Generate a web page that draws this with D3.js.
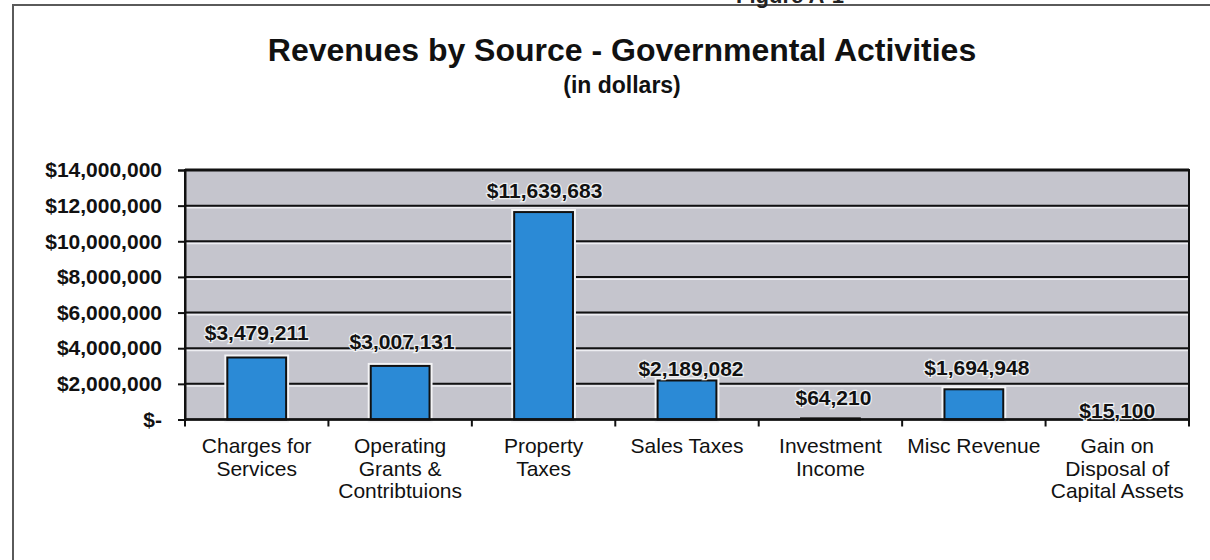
<!DOCTYPE html>
<html>
<head>
<meta charset="utf-8">
<script src="https://cdn.jsdelivr.net/npm/d3@7"></script>
<style>
  html, body { margin: 0; padding: 0; background: #fff; }
  svg { display: block; font-family: "Liberation Sans", Arial, sans-serif; }
</style>
</head>
<body>
<svg id="chart" width="1210" height="560"></svg>
<script>
// Revenue sources (line breaks mark wrapped axis labels)
const categories = [
  "Charges for\nServices",
  "Operating\nGrants &\nContribtuions",
  "Property\nTaxes",
  "Sales Taxes",
  "Investment\nIncome",
  "Misc Revenue",
  "Gain on\nDisposal of\nCapital Assets"
];
const revenues = [3479211, 3007131, 11639683, 2189082, 64210, 1694948, 15100];
const yTicks = [0, 2000000, 4000000, 6000000, 8000000, 10000000, 12000000, 14000000];

// Value-label placement: gap from bar top to label baseline, and sideways nudge
const labelLift = [17, 17, 14, 4, 13, 14, 1];
const labelShift = [0, 2, 1, 4, 3, 3, 0];

const W = 1210, H = 560;
const plot = { left: 185, right: 1189, top: 170, bottom: 419.5 };

const svg = d3.select("#chart");
const money = d3.format(",");
const fmtTick = v => v === 0 ? "$-" : "$" + money(v);
const fmtLabel = v => "$" + money(v);

// Page frame
svg.append("path")
  .attr("d", `M13,${H} L13,5 L${W},5`)
  .attr("fill", "none")
  .attr("stroke", "#5a5a5a")
  .attr("stroke-width", 2);

// Figure caption sitting above the frame
svg.append("text")
  .attr("x", 790).attr("y", 3)
  .attr("text-anchor", "middle")
  .attr("font-size", 22).attr("font-weight", "bold")
  .attr("fill", "#222")
  .text("Figure A-1");

// Titles
svg.append("text")
  .attr("x", 622).attr("y", 61)
  .attr("text-anchor", "middle")
  .attr("font-size", 32).attr("font-weight", "bold")
  .attr("fill", "#111")
  .text("Revenues by Source - Governmental Activities");
svg.append("text")
  .attr("x", 622).attr("y", 93)
  .attr("text-anchor", "middle")
  .attr("font-size", 23).attr("font-weight", "bold")
  .attr("fill", "#111")
  .text("(in dollars)");

// Scales
const y = d3.scaleLinear().domain([0, 14000000]).range([plot.bottom, plot.top]);
const slot = d3.scaleBand().domain(categories).range([plot.left, plot.right]).padding(0);
const x = d3.scaleBand().domain(categories).range([plot.left, plot.right])
  .paddingInner(0.59).paddingOuter(0.295);

// Plot background
svg.append("rect")
  .attr("x", plot.left).attr("y", plot.top)
  .attr("width", plot.right - plot.left).attr("height", plot.bottom - plot.top)
  .attr("fill", "#c5c5cd");

// Horizontal gridlines with a light edge underneath
const grid = svg.append("g");
grid.selectAll("line.hl").data(yTicks.slice(1, -1)).join("line")
  .attr("class", "hl")
  .attr("x1", plot.left).attr("x2", plot.right)
  .attr("y1", d => y(d) + 2.2).attr("y2", d => y(d) + 2.2)
  .attr("stroke", "#eeeef2").attr("stroke-width", 1.5);
grid.selectAll("line.gl").data(yTicks.slice(1, -1)).join("line")
  .attr("class", "gl")
  .attr("x1", plot.left).attr("x2", plot.right)
  .attr("y1", d => y(d)).attr("y2", d => y(d))
  .attr("stroke", "#111").attr("stroke-width", 2);

// Bars
const bars = svg.append("g");
bars.selectAll("rect.halo").data(revenues).join("rect")
  .attr("class", "halo")
  .attr("x", (d, i) => x(categories[i]))
  .attr("y", d => y(d))
  .attr("width", x.bandwidth())
  .attr("height", d => plot.bottom - y(d))
  .attr("fill", "none")
  .attr("stroke", "#f4f4f6").attr("stroke-width", d => plot.bottom - y(d) > 4 ? 6 : 0);
bars.selectAll("rect.bar").data(revenues).join("rect")
  .attr("class", "bar")
  .attr("x", (d, i) => x(categories[i]))
  .attr("y", d => y(d))
  .attr("width", x.bandwidth())
  .attr("height", d => plot.bottom - y(d))
  .attr("fill", "#2b8ad6")
  .attr("stroke", "#111").attr("stroke-width", 2);

// Plot border
svg.append("rect")
  .attr("x", plot.left).attr("y", plot.top)
  .attr("width", plot.right - plot.left).attr("height", plot.bottom - plot.top)
  .attr("fill", "none")
  .attr("stroke", "#111").attr("stroke-width", 2);
svg.append("line")
  .attr("x1", plot.left).attr("x2", plot.right)
  .attr("y1", plot.top).attr("y2", plot.top)
  .attr("stroke", "#111").attr("stroke-width", 3);

// Y axis
const yAxis = svg.append("g")
  .attr("transform", `translate(${plot.left},0)`)
  .call(d3.axisLeft(y).tickValues(yTicks).tickSize(7).tickPadding(16).tickFormat(fmtTick));
yAxis.select(".domain").attr("stroke", "#111").attr("stroke-width", 2);
yAxis.selectAll(".tick line").attr("stroke", "#111").attr("stroke-width", 2);
yAxis.selectAll(".tick text")
  .attr("font-family", "'Liberation Sans', Arial, sans-serif")
  .attr("font-size", 21).attr("font-weight", "bold").attr("fill", "#111");

// X axis: boundary ticks between categories
const xAxis = svg.append("g");
const bounds = categories.map(c => slot(c)).concat([plot.right]);
xAxis.selectAll("line").data(bounds).join("line")
  .attr("x1", d => d).attr("x2", d => d)
  .attr("y1", plot.bottom).attr("y2", plot.bottom + 7)
  .attr("stroke", "#111").attr("stroke-width", 2);
xAxis.append("line")
  .attr("x1", plot.left).attr("x2", plot.right)
  .attr("y1", plot.bottom).attr("y2", plot.bottom)
  .attr("stroke", "#111").attr("stroke-width", 2.5);

// Category labels
const catText = svg.append("g").selectAll("text").data(categories).join("text")
  .attr("x", d => slot(d) + slot.bandwidth() / 2)
  .attr("y", 453)
  .attr("text-anchor", "middle")
  .attr("font-size", 21)
  .attr("fill", "#111");
catText.each(function(d) {
  const t = d3.select(this);
  d.split("\n").forEach((line, k) => {
    t.append("tspan")
      .attr("x", slot(d) + slot.bandwidth() / 2)
      .attr("dy", k === 0 ? 0 : 22.5)
      .text(line);
  });
});

// Value labels
svg.append("g").selectAll("text").data(revenues).join("text")
  .attr("x", (d, i) => x(categories[i]) + x.bandwidth() / 2 + labelShift[i])
  .attr("y", (d, i) => y(d) - labelLift[i])
  .attr("text-anchor", "middle")
  .attr("font-size", 21).attr("font-weight", "bold")
  .attr("fill", "#111")
  .attr("stroke", "#eef0f2").attr("stroke-width", 2.5)
  .attr("paint-order", "stroke")
  .text(d => fmtLabel(d));
</script>
</body>
</html>
